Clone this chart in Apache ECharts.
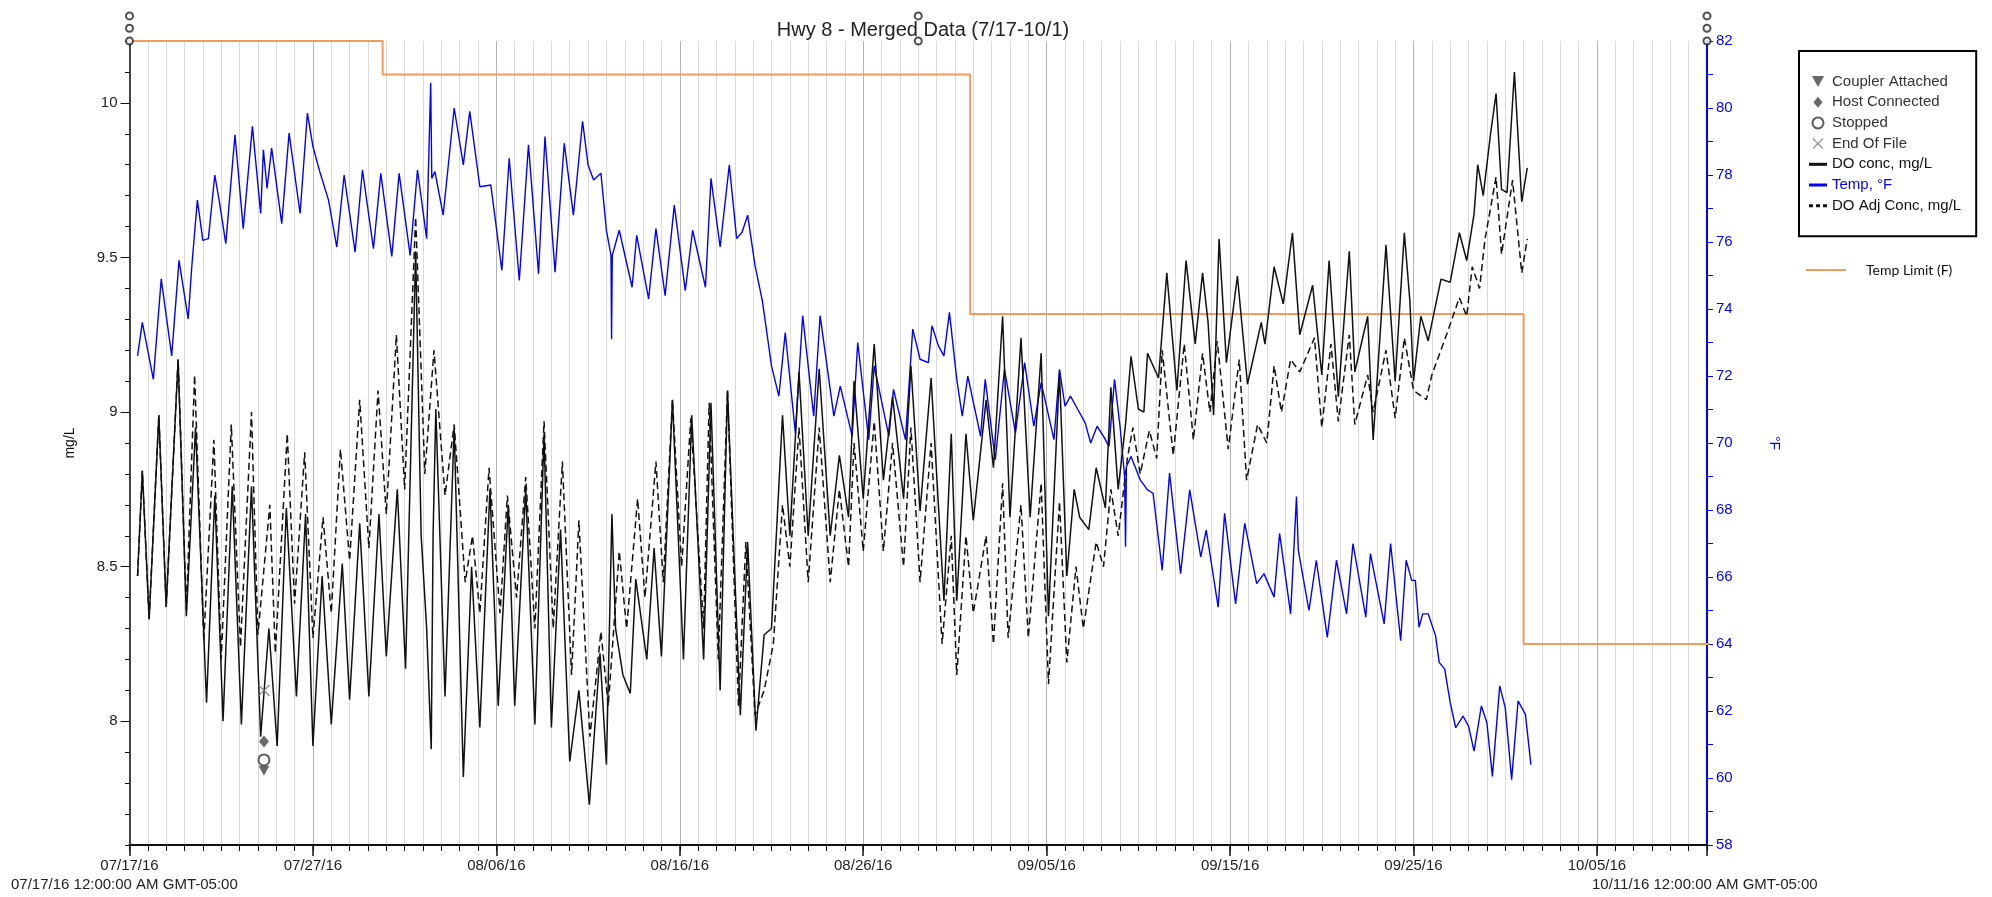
<!DOCTYPE html>
<html>
<head>
<meta charset="utf-8">
<title>Hwy 8 - Merged Data</title>
<script src="https://cdn.jsdelivr.net/npm/echarts@6/dist/echarts.min.js"></script>
<style>
  html, body { margin: 0; padding: 0; background: #fff; }
  #chart { width: 1992px; height: 897px; }
</style>
</head>
<body>
<div id="chart"></div>
<script>
// x values are days since 07/17/16 12:00 AM
const dateLabels = ['07/17/16', '07/27/16', '08/06/16', '08/16/16', '08/26/16', '09/05/16', '09/15/16', '09/25/16', '10/05/16']
const mgLabels = [8, 8.5, 9, 9.5, 10]
const startText = '07/17/16 12:00:00 AM GMT-05:00'
const endText = '10/11/16 12:00:00 AM GMT-05:00'

const tempF = [
  [0.44,72.6],[0.7,73.6],[1.3,71.9],[1.73,74.9],[2.3,72.6],[2.7,75.45],[3.2,73.7],[3.4,75.3],[3.7,77.25],[4.0,76.05],
  [4.3,76.1],[4.65,78.0],[4.9,77.2],[5.25,75.95],[5.75,79.2],[6.2,76.4],[6.7,79.45],[7.15,76.85],[7.3,78.75],[7.5,77.6],
  [7.75,78.8],[8.3,76.55],[8.7,79.25],[9.3,76.85],[9.7,79.85],[10.0,78.85],[10.4,78.05],[10.85,77.25],[11.3,75.85],[11.7,78.0],
  [12.3,75.7],[12.7,78.15],[13.3,75.8],[13.7,78.05],[14.3,75.57],[14.7,78.05],[15.3,75.6],[15.7,78.15],[16.2,76.1],[16.42,80.75],
  [16.48,77.9],[16.65,78.1],[17.1,76.8],[17.7,80.0],[18.2,78.3],[18.55,79.9],[19.1,77.65],[19.7,77.7],[20.3,75.15],[20.7,78.5],
  [21.25,74.85],[21.75,78.9],[22.3,75.05],[22.65,79.15],[23.2,75.1],[23.7,78.95],[24.2,76.8],[24.7,79.6],[25.0,78.3],[25.3,77.85],
  [25.7,78.05],[26.0,76.35],[26.25,75.6],[26.28,73.1],[26.32,75.6],[26.7,76.35],[27.4,74.65],[27.65,76.2],[28.3,74.3],[28.7,76.4],
  [29.2,74.4],[29.7,77.1],[30.3,74.55],[30.7,76.35],[31.4,74.65],[31.7,77.9],[32.2,75.85],[32.7,78.3],[33.1,76.1],[33.4,76.3],
  [33.7,76.8],[34.1,75.3],[34.5,74.25],[35.0,72.3],[35.4,71.4],[35.75,73.3],[36.3,70.3],[36.7,73.8],[37.3,70.8],[37.65,73.8],
  [38.4,70.8],[38.75,71.7],[39.4,70.2],[39.7,73.0],[40.3,70.1],[40.6,72.3],[41.4,70.2],[41.65,71.6],[42.3,70.1],[42.7,73.4],
  [43.1,72.5],[43.55,72.4],[43.75,73.5],[44.1,72.9],[44.4,72.6],[44.7,73.9],[45.1,71.9],[45.4,70.8],[45.7,72.0],[46.4,70.2],
  [46.65,71.9],[47.2,69.5],[47.7,72.2],[48.3,70.3],[48.8,72.4],[49.3,70.5],[49.7,71.8],[50.4,70.1],[50.7,72.2],[51.0,71.1],
  [51.3,71.4],[51.7,71.0],[52.1,70.6],[52.4,70.0],[52.75,70.5],[53.1,70.2],[53.4,69.9],[53.7,71.9],[54.0,70.5],[54.25,69.0],
  [54.3,66.9],[54.35,69.3],[54.6,69.6],[55.1,68.9],[55.5,68.6],[55.8,68.5],[56.3,66.2],[56.7,69.1],[57.3,66.1],[57.8,68.6],
  [58.4,66.6],[58.7,67.4],[59.35,65.1],[59.7,67.9],[60.3,65.2],[60.8,67.6],[61.45,65.8],[61.85,66.1],[62.4,65.4],[62.7,67.3],
  [63.3,64.9],[63.62,68.4],[63.72,66.8],[64.3,65.0],[64.7,66.5],[65.3,64.2],[65.8,66.5],[66.35,64.9],[66.7,67.0],[67.4,64.8],
  [67.65,66.7],[68.4,64.6],[68.75,67.0],[69.3,64.1],[69.6,66.5],[69.9,65.9],[70.1,65.9],[70.3,64.5],[70.5,64.9],[70.8,64.9],
  [71.2,64.25],[71.4,63.45],[71.7,63.25],[72.0,62.25],[72.3,61.5],[72.7,61.85],[73.0,61.55],[73.3,60.8],[73.7,62.15],[74.0,61.65],
  [74.3,60.05],[74.7,62.75],[75.0,62.1],[75.35,59.95],[75.7,62.3],[76.1,61.9],[76.4,60.4]
]

const doConc = [
  [0.44,8.47],[0.7,8.81],[1.07,8.33],[1.6,8.99],[2.0,8.37],[2.65,9.17],[3.1,8.34],[3.6,8.95],[4.2,8.06],[4.65,8.73],
  [5.1,8.0],[5.6,8.76],[6.1,7.99],[6.65,8.76],[7.15,7.95],[7.6,8.3],[8.05,7.92],[8.55,8.69],[9.1,8.08],[9.6,8.67],
  [10.0,7.92],[10.5,8.47],[11.0,7.99],[11.6,8.51],[12.0,8.07],[12.55,8.64],[13.05,8.08],[13.6,8.67],[14.0,8.21],[14.6,8.75],
  [15.05,8.17],[15.6,9.52],[15.9,8.6],[16.2,8.3],[16.45,7.91],[16.55,8.6],[16.7,9.01],[17.2,8.08],[17.7,8.95],[18.2,7.82],
  [18.65,8.5],[19.1,7.98],[19.65,8.75],[20.1,8.05],[20.65,8.7],[21.0,8.05],[21.6,8.75],[22.1,7.99],[22.6,8.93],[23.0,7.98],
  [23.5,8.62],[24.0,7.87],[24.5,8.1],[25.07,7.73],[25.65,8.22],[26.0,7.86],[26.3,8.67],[26.5,8.3],[26.9,8.15],[27.3,8.09],
  [27.6,8.46],[28.2,8.2],[28.6,8.56],[29.0,8.21],[29.6,9.04],[30.2,8.2],[30.65,8.99],[31.3,8.2],[31.7,9.03],[32.2,8.1],
  [32.6,9.07],[33.3,8.02],[33.7,8.58],[34.15,7.97],[34.6,8.28],[35.0,8.3],[35.6,8.99],[36.0,8.6],[36.5,9.13],[37.0,8.6],
  [37.6,9.14],[38.2,8.6],[38.7,8.86],[39.2,8.66],[39.5,9.1],[40.0,8.72],[40.6,9.22],[41.1,8.78],[41.6,9.05],[42.2,8.72],
  [42.6,9.15],[43.1,8.68],[43.7,9.11],[44.4,8.39],[44.8,8.93],[45.1,8.39],[45.6,8.93],[46.0,8.65],[46.7,9.04],[47.1,8.82],
  [47.6,9.31],[48.0,8.66],[48.6,9.24],[49.1,8.66],[49.7,9.19],[50.1,8.34],[50.7,9.13],[51.1,8.47],[51.5,8.75],[51.8,8.66],
  [52.3,8.62],[52.7,8.82],[53.2,8.69],[53.5,9.08],[53.9,8.75],[54.3,8.96],[54.6,9.18],[55.0,9.01],[55.3,9.0],[55.5,9.19],
  [56.1,9.11],[56.55,9.45],[57.1,9.07],[57.6,9.49],[58.1,9.22],[58.5,9.45],[58.8,9.29],[59.1,8.99],[59.4,9.56],[59.8,9.16],
  [60.4,9.44],[60.95,9.09],[61.7,9.29],[61.9,9.22],[62.4,9.47],[62.9,9.35],[63.4,9.58],[63.8,9.25],[64.5,9.41],[65.0,9.12],
  [65.4,9.49],[65.9,9.05],[66.5,9.52],[66.8,9.13],[67.5,9.31],[67.8,8.91],[68.5,9.54],[69.0,9.1],[69.5,9.58],[69.8,9.36],
  [70.0,9.1],[70.4,9.31],[70.8,9.23],[71.5,9.43],[72.0,9.42],[72.5,9.58],[72.9,9.49],[73.3,9.64],[73.5,9.8],[73.8,9.7],
  [74.2,9.9],[74.5,10.03],[74.8,9.72],[75.1,9.71],[75.5,10.1],[75.9,9.68],[76.2,9.79]
]

const doAdj = [
  [0.44,8.47],[0.7,8.81],[1.07,8.33],[1.6,8.99],[2.0,8.37],[2.65,9.17],[3.1,8.36],[3.55,9.12],[4.05,8.26],[4.6,8.91],
  [5.0,8.2],[5.55,8.96],[6.05,8.24],[6.65,9.0],[7.0,8.28],[7.65,8.7],[7.95,8.22],[8.6,8.93],[9.0,8.38],[9.55,8.87],
  [10.0,8.27],[10.55,8.66],[11.0,8.35],[11.5,8.88],[12.0,8.52],[12.55,9.04],[13.05,8.56],[13.55,9.07],[14.0,8.67],[14.55,9.25],
  [15.0,8.75],[15.6,9.63],[16.1,8.8],[16.6,9.2],[17.2,8.73],[17.7,8.96],[18.3,8.45],[18.7,8.6],[19.1,8.35],[19.6,8.82],
  [20.2,8.35],[20.6,8.73],[21.1,8.4],[21.6,8.79],[22.1,8.3],[22.6,8.97],[23.1,8.3],[23.6,8.84],[24.1,8.15],[24.5,8.65],
  [25.1,7.95],[25.7,8.29],[26.1,8.05],[26.7,8.55],[27.1,8.3],[27.7,8.72],[28.1,8.4],[28.7,8.84],[29.1,8.45],[29.6,9.04],
  [30.1,8.5],[30.6,8.98],[31.3,8.3],[31.6,9.03],[32.1,8.2],[32.6,9.07],[33.2,8.05],[33.6,8.58],[34.1,8.02],[34.6,8.1],
  [35.1,8.25],[35.6,8.7],[36.0,8.5],[36.5,8.95],[37.0,8.45],[37.6,8.95],[38.2,8.45],[38.7,8.75],[39.2,8.5],[39.5,8.9],
  [40.0,8.55],[40.6,8.97],[41.1,8.55],[41.6,8.9],[42.2,8.5],[42.6,8.95],[43.1,8.45],[43.7,8.9],[44.3,8.25],[44.8,8.6],
  [45.1,8.15],[45.6,8.6],[46.0,8.35],[46.7,8.6],[47.1,8.25],[47.6,8.77],[47.9,8.27],[48.6,8.7],[49.0,8.27],[49.7,8.77],
  [50.1,8.12],[50.7,8.71],[51.1,8.19],[51.6,8.5],[52.0,8.3],[52.7,8.58],[53.1,8.5],[53.5,8.75],[53.9,8.6],[54.4,8.85],
  [54.7,8.95],[55.1,8.8],[55.6,8.94],[56.0,8.85],[56.3,9.2],[56.9,8.86],[57.5,9.22],[58.0,8.91],[58.5,9.19],[58.9,9.0],
  [59.3,9.23],[59.9,8.88],[60.5,9.17],[60.9,8.78],[61.5,8.96],[62.0,8.9],[62.4,9.15],[62.8,9.0],[63.3,9.17],[63.8,9.13],
  [64.6,9.24],[65.0,8.95],[65.5,9.22],[65.9,8.97],[66.5,9.25],[66.8,8.96],[67.5,9.12],[67.8,9.0],[68.5,9.2],[69.0,8.98],
  [69.5,9.24],[70.0,9.07],[70.7,9.04],[71.0,9.12],[71.8,9.25],[72.5,9.37],[72.9,9.31],[73.2,9.47],[73.6,9.4],[73.9,9.56],
  [74.5,9.76],[74.8,9.51],[75.4,9.75],[75.9,9.45],[76.2,9.56]
]

// Temp limit steps (°F), held from each day until the next
const limitDays = [-1.37, 13.8, 45.83, 76.0, 87.6]
const limitVals = [82, 81, 73.85, 64, 64]

// logger events
const couplerPts = [[7.33, 7.84]]
const hostPts = [[7.33, 7.935]]
const stoppedPts = [[7.33, 7.875]]
const eofPts = [[7.33, 8.10]]
const topMarks = [[0, 82], [0, 82.38], [0, 82.75], [43, 82], [43, 82.75], [86, 82], [86, 82.38], [86, 82.75]]

const font = '"Liberation Sans", Arial, sans-serif'
const triPath = 'path://M0,0L10,0L5,9Z'
const diaPath = 'path://M5,0L10,6L5,12L0,6Z'
const xPath = 'path://M0,1L1,0L6,5L11,0L12,1L7,6L12,11L11,12L6,7L1,12L0,11L5,6Z'
const barPath = 'path://M0,0H18V3H0Z'
const dotsPath = 'path://M0,0H4V3H0Z M7,0H11V3H7Z M14,0H18V3H14Z'

const chart = echarts.init(document.getElementById('chart'))
chart.setOption({
  animation: false,
  backgroundColor: '#fff',
  textStyle: { fontFamily: font },
  title: {
    text: 'Hwy 8 - Merged Data (7/17-10/1)',
    left: 918, top: 15, textAlign: 'center',
    textStyle: { fontFamily: font, fontSize: 20, fontWeight: 'normal', color: '#222' }
  },
  grid: { left: 129.5, right: 285, top: 41, bottom: 52 },
  xAxis: [
    {
      type: 'value', position: 'bottom', min: 0, max: 86, interval: 1,
      axisLine: { lineStyle: { color: '#111', width: 2 } },
      axisTick: { length: 6, lineStyle: { color: '#111' } },
      axisLabel: { show: false },
      splitLine: { show: true, lineStyle: { color: '#dadada', width: 1 } }
    },
    {
      type: 'value', position: 'bottom', offset: 0, min: 0, max: 86, interval: 10,
      axisLine: { show: false },
      axisTick: { length: 11, lineStyle: { color: '#111', width: 1.5 } },
      axisLabel: {
        margin: 13, fontSize: 15, color: '#222', fontFamily: font,
        formatter: v => (v % 10 === 0 ? dateLabels[v / 10] || '' : '')
      },
      splitLine: { show: true, lineStyle: { color: '#b4b4b4', width: 1 } }
    }
  ],
  yAxis: [
    {
      type: 'value', min: 7.6, max: 10.2, position: 'left',
      name: 'mg/L', nameLocation: 'middle', nameGap: 52, nameRotate: 90,
      nameTextStyle: { fontFamily: font, fontSize: 14, color: '#111' },
      axisLine: { show: true, lineStyle: { color: '#111', width: 1.5 } },
      axisTick: { show: true, length: 9, customValues: mgLabels, lineStyle: { color: '#111' } },
      axisLabel: { margin: 12, fontSize: 15, color: '#222', fontFamily: font, customValues: mgLabels, formatter: v => String(v) },
      splitLine: { show: false }
    },
    {
      type: 'value', min: 7.6, max: 10.2, interval: 0.1, position: 'left',
      axisLine: { show: false },
      axisTick: { show: true, length: 4.5, lineStyle: { color: '#111' } },
      axisLabel: { show: false },
      splitLine: { show: false }
    },
    {
      type: 'value', min: 58, max: 82, interval: 1, position: 'right',
      name: '°F', nameLocation: 'middle', nameGap: 60, nameRotate: -90,
      nameTextStyle: { fontFamily: font, fontSize: 14, color: '#0000ff' },
      axisLine: { show: true, lineStyle: { color: '#0000ff', width: 2 } },
      axisTick: { show: true, length: 6, lineStyle: { color: '#0000ff' } },
      axisLabel: {
        margin: 9, fontSize: 15, color: '#0000ff', fontFamily: font,
        formatter: v => (v % 2 === 0 ? String(v) : '')
      },
      splitLine: { show: false }
    }
  ],
  legend: [
    {
      orient: 'vertical', left: 1799, top: 51,
      padding: [23, 15, 23, 10], itemGap: 5.7, itemWidth: 18, itemHeight: 11,
      borderColor: '#000', borderWidth: 2, backgroundColor: '#fff',
      selectedMode: false,
      itemStyle: { borderWidth: 0 },
      textStyle: { fontFamily: font, fontSize: 15, color: '#333', lineHeight: 15 },
      data: [
        { name: 'Coupler Attached', icon: triPath },
        { name: 'Host Connected', icon: diaPath },
        { name: 'Stopped', icon: 'emptyCircle' },
        { name: 'End Of File', icon: xPath },
        { name: 'DO conc, mg/L', icon: barPath, textStyle: { color: '#111' } },
        { name: 'Temp, °F', icon: barPath, textStyle: { color: '#0000ff' } },
        { name: 'DO Adj Conc, mg/L', icon: dotsPath, textStyle: { color: '#111' } }
      ]
    },
    {
      left: 1806, top: 263, padding: 0, itemWidth: 40, itemHeight: 2,
      selectedMode: false, itemStyle: { borderWidth: 0 },
      textStyle: { fontFamily: 'Lato, sans-serif', fontSize: 14, color: '#111', padding: [0, 0, 0, 15] },
      data: [{ name: 'Temp Limit (F)', icon: 'rect' }]
    }
  ],
  graphic: [
    { type: 'text', left: 11, top: 877, style: { text: startText, font: '15px ' + font, fill: '#222' } },
    { type: 'text', left: 1592, top: 877, style: { text: endText, font: '15px ' + font, fill: '#222' } }
  ],
  series: [
    {
      name: 'Temp Limit (F)', type: 'line', yAxisIndex: 2, step: 'end', clip: false,
      symbol: 'none', silent: true, color: '#f39a5e',
      itemStyle: { color: '#f39a5e' },
      lineStyle: { color: '#f39a5e', width: 2 },
      data: limitDays.map((d, i) => [d, limitVals[i]])
    },
    {
      name: 'Temp, °F', type: 'line', yAxisIndex: 2, symbol: 'none', silent: true,
      color: '#0000ff', itemStyle: { color: '#0000ff' },
      lineStyle: { color: '#0000ff', width: 1.4 },
      data: tempF
    },
    {
      name: 'DO conc, mg/L', type: 'line', yAxisIndex: 1, symbol: 'none', silent: true,
      color: '#111', itemStyle: { color: '#111' },
      lineStyle: { color: '#111', width: 1.5 },
      data: doConc
    },
    {
      name: 'DO Adj Conc, mg/L', type: 'line', yAxisIndex: 1, symbol: 'none', silent: true,
      color: '#111', itemStyle: { color: '#111' },
      lineStyle: { color: '#111', width: 1.5, type: [7, 4] },
      data: doAdj
    },
    {
      name: 'Coupler Attached', type: 'scatter', yAxisIndex: 1, symbol: triPath, symbolSize: [11, 10],
      color: '#444', itemStyle: { color: '#444' }, data: couplerPts, z: 5
    },
    {
      name: 'Host Connected', type: 'scatter', yAxisIndex: 1, symbol: diaPath, symbolSize: [10, 12],
      color: '#444', itemStyle: { color: '#444' }, data: hostPts, z: 5
    },
    {
      name: 'Stopped', type: 'scatter', yAxisIndex: 1, symbol: 'emptyCircle', symbolSize: 11,
      color: '#333', itemStyle: { color: '#333', borderWidth: 1.2 }, data: stoppedPts, z: 6
    },
    {
      name: 'End Of File', type: 'scatter', yAxisIndex: 1, symbol: xPath, symbolSize: 12,
      color: '#777', itemStyle: { color: '#777' }, data: eofPts, z: 5
    },
    {
      name: 'Marks', type: 'scatter', yAxisIndex: 2, symbol: 'emptyCircle', symbolSize: 7, clip: false,
      itemStyle: { color: '#222', borderWidth: 1 }, data: topMarks, z: 6
    }
  ]
})
</script>
</body>
</html>
